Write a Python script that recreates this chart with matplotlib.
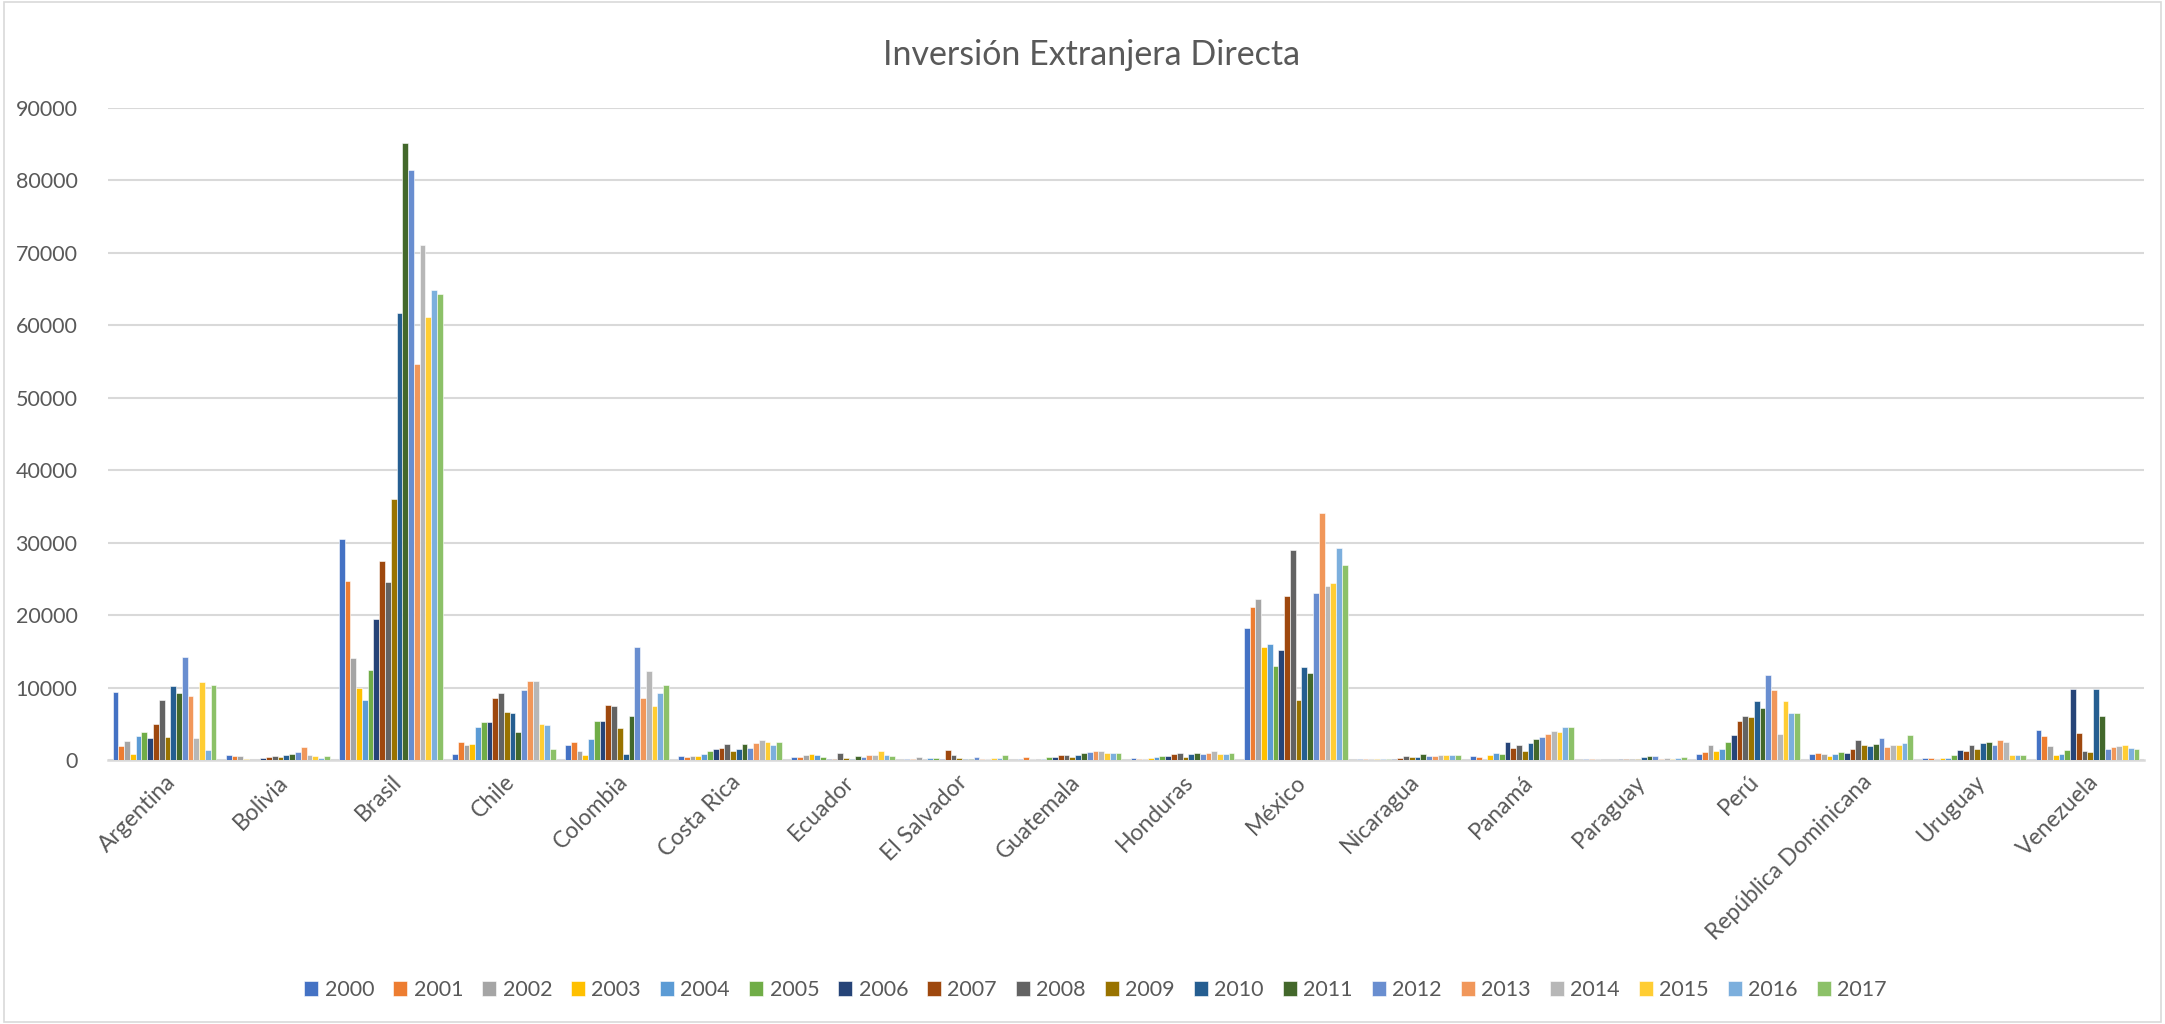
import matplotlib
matplotlib.use("Agg")
import matplotlib.pyplot as plt
import numpy as np
from matplotlib.patches import Rectangle

countries = ["Argentina", "Bolivia", "Brasil", "Chile", "Colombia", "Costa Rica",
             "Ecuador", "El Salvador", "Guatemala", "Honduras", "México", "Nicaragua",
             "Panamá", "Paraguay", "Perú", "República Dominicana", "Uruguay", "Venezuela"]
years = [str(y) for y in range(2000, 2018)]

# values per country, 2000..2017
argentina = [9450, 1940, 2670, 780, 3360, 3920, 3090, 4930, 8300, 3230, 10280, 9310, 14190, 8890, 3090, 10780, 1430, 10320]
bolivia = [650, 600, 600, 140, 60, 0, 280, 360, 510, 420, 640, 860, 1060, 1750, 650, 500, 250, 550]
brasil = [30500, 24640, 14070, 9870, 8270, 12470, 19500, 27420, 24590, 35990, 61700, 85100, 81380, 54670, 71100, 61170, 64890, 64360]
chile = [830, 2540, 2120, 2260, 4620, 5270, 5310, 8590, 9280, 6560, 6510, 3880, 9700, 10900, 10900, 4940, 4850, 1520]
colombia = [2080, 2490, 1200, 740, 2910, 5400, 5400, 7530, 7480, 4480, 880, 6140, 15610, 8550, 12240, 7440, 9280, 10300]
costa_rica = [510, 460, 510, 550, 830, 1290, 1520, 1710, 2220, 1290, 1520, 2260, 1710, 2360, 2770, 2490, 2120, 2540]
ecuador = [430, 460, 740, 790, 740, 410, 180, 140, 1010, 230, 140, 600, 460, 690, 740, 1240, 740, 550]
el_salvador = [140, 180, 460, 40, 280, 280, 140, 1380, 740, 280, 140, 140, 410, 140, 140, 280, 280, 690]
guatemala = [140, 410, 100, 50, 140, 370, 460, 690, 690, 460, 690, 970, 1110, 1200, 1200, 1010, 1010, 920]
honduras = [320, 180, 180, 320, 460, 550, 600, 880, 970, 410, 880, 970, 830, 970, 1240, 880, 880, 970]
mexico = [18270, 21170, 22190, 15640, 15960, 12960, 15220, 22650, 28920, 8260, 12820, 11990, 23020, 34090, 24080, 24490, 29200, 26890]
nicaragua = [180, 90, 140, 140, 140, 140, 180, 320, 550, 410, 370, 880, 600, 600, 690, 740, 740, 740]
panama = [550, 370, 0, 740, 1010, 830, 2490, 1710, 2120, 1200, 2300, 2860, 3180, 3550, 4060, 3920, 4610, 4560]
paraguay = [100, 80, 140, 30, 30, 50, 140, 180, 180, 100, 410, 550, 550, 180, 320, 180, 280, 370]
peru = [760, 1060, 2120, 1200, 1570, 2540, 3410, 5400, 6140, 5950, 8170, 7110, 11680, 9600, 3600, 8120, 6510, 6510]
rep_dominicana = [880, 1020, 830, 550, 830, 1060, 1020, 1570, 2820, 2080, 1940, 2220, 3090, 1850, 2120, 2120, 2350, 3510]
uruguay = [230, 230, 180, 320, 280, 740, 1430, 1200, 2030, 1480, 2350, 2450, 2120, 2770, 2450, 740, 740, 740]
venezuela = [4150, 3280, 1940, 650, 780, 1380, 9780, 3740, 1290, 1150, 9780, 6050, 1570, 1850, 1980, 2120, 1710, 1570]

data = [argentina, bolivia, brasil, chile, colombia, costa_rica, ecuador, el_salvador,
        guatemala, honduras, mexico, nicaragua, panama, paraguay, peru, rep_dominicana,
        uruguay, venezuela]

colors = ["#4472C4", "#ED7D31", "#A5A5A5", "#FFC000", "#5B9BD5", "#70AD47",
          "#264478", "#9E480E", "#636363", "#997300", "#255E91", "#43682B",
          "#698ED0", "#F1975A", "#B7B7B7", "#FFCD33", "#7CAFDD", "#8CC168"]

plt.rcParams['font.family'] = ['Lato', 'DejaVu Sans']
txt = "#595959"
grid = "#D9D9D9"

fig = plt.figure(figsize=(21.65, 10.24), dpi=100)
ax = fig.add_axes([108/2165, 1-760/1024, (2144-108)/2165, (760-108)/1024])

arr = np.array(data)  # countries x years
n = len(years)
x = np.arange(len(countries))
bw = 0.051
for j in range(n):
    ax.bar(x + (j - (n-1)/2) * bw, arr[:, j], width=bw, color=colors[j],
           edgecolor="white", linewidth=0.4, label=years[j], zorder=3)

ax.set_xlim(-0.5, len(countries)-0.5)
ax.set_ylim(0, 90000)
ax.set_yticks(np.arange(0, 90001, 10000))
ax.set_yticklabels([str(v) for v in range(0, 90001, 10000)])
ax.yaxis.grid(True, color=grid, linewidth=1.5, zorder=0)
ax.set_axisbelow(True)
for s in ["top", "right", "left"]:
    ax.spines[s].set_visible(False)
ax.spines["bottom"].set_color(grid)
ax.spines["bottom"].set_linewidth(1.8)
ax.tick_params(axis="y", length=0, pad=22, labelsize=15.5, labelcolor=txt)
ax.tick_params(axis="x", length=0, pad=8, labelsize=16.5, labelcolor=txt)
ax.set_xticks(x)
ax.set_xticklabels(countries, rotation=45, ha="right", va="top", rotation_mode="anchor")

fig.text(0.504, 1-55/1024, "Inversión Extranjera Directa", ha="center", va="center",
         fontsize=24.5, color=txt)

leg = fig.legend(loc="center", bbox_to_anchor=(0.506, 1-990/1024), ncol=18, frameon=False,
                 fontsize=15.5, handlelength=0.65, handleheight=0.65, handletextpad=0.3,
                 columnspacing=0.88, labelcolor=txt)

fig.patches.append(Rectangle((0.002, 0.002), 0.996, 0.996, transform=fig.transFigure,
                             fill=False, edgecolor=grid, linewidth=1.2))

fig.savefig("out.png", dpi=100, facecolor="white")
